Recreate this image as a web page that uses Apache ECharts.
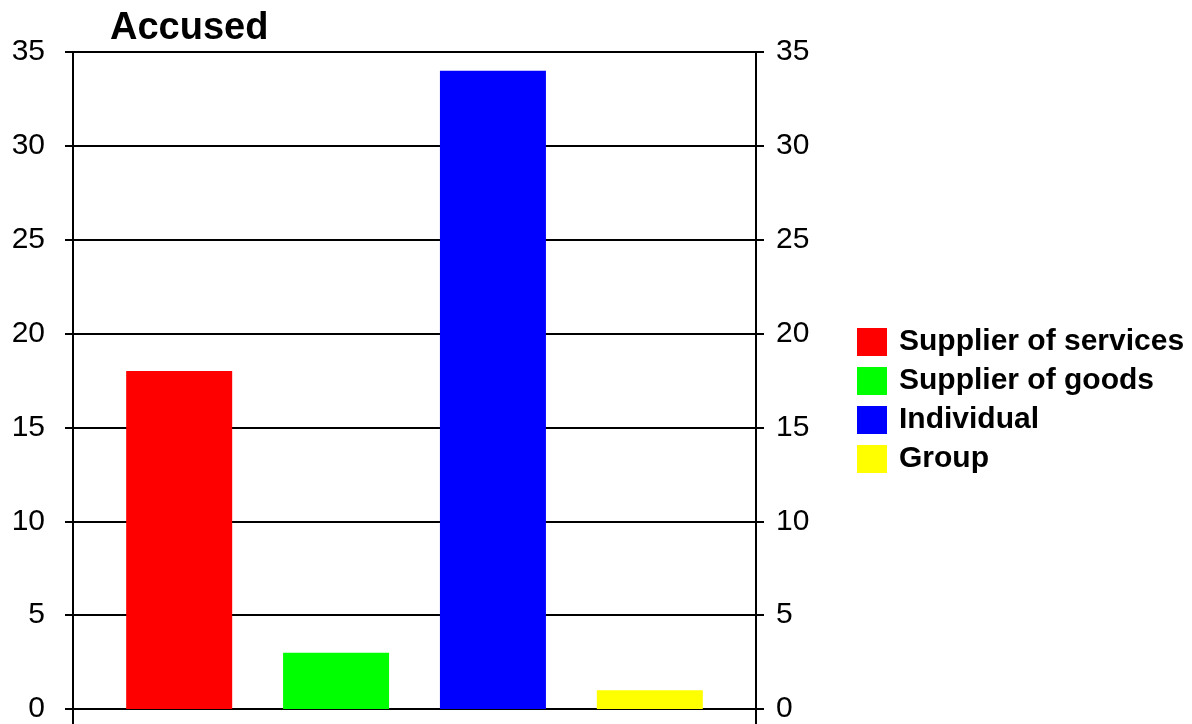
<!DOCTYPE html>
<html>
<head>
<meta charset="utf-8">
<script src="https://cdn.jsdelivr.net/npm/echarts@6/dist/echarts.min.js"></script>
<style>
  html, body { margin: 0; padding: 0; background: #fff; }
  #chart { width: 1192px; height: 724px; }
</style>
</head>
<body>
<div id="chart"></div>
<script>
// one category, one series per accused type
const categories = ['Accused'];
const seriesNames = ['Supplier of services', 'Supplier of goods', 'Individual', 'Group'];
const seriesValues = [18, 3, 34, 1];
const seriesColors = ['#ff0000', '#00ff00', '#0000ff', '#ffff00'];
const yTicks = { min: 0, max: 35, interval: 5 };

const font = 'Arial, "Liberation Sans", sans-serif';

const myChart = echarts.init(document.getElementById('chart'));

const yAxisBase = {
  type: 'value',
  min: yTicks.min,
  max: yTicks.max,
  interval: yTicks.interval,
  axisLine: { show: true, lineStyle: { color: '#000', width: 2 } },
  axisTick: { show: true, length: 8, lineStyle: { color: '#000', width: 2 } },
};

const option = {
  animation: false,
  backgroundColor: '#fff',
  title: {
    text: 'Accused',
    left: 110,
    top: 10,
    padding: 0,
    textStyle: { fontFamily: font, fontWeight: 'bold', fontSize: 38, color: '#000' },
  },
  legend: {
    orient: 'vertical',
    left: 857,
    top: 327,
    padding: 0,
    itemWidth: 30,
    itemHeight: 28,
    itemGap: 9,
    icon: 'rect',
    textStyle: { fontFamily: font, fontWeight: 'bold', fontSize: 30, color: '#000', padding: [0, 0, 0, 7] },
    data: seriesNames,
  },
  grid: { left: 73, right: 436, top: 52, bottom: 15, containLabel: false },
  xAxis: {
    type: 'category',
    data: categories,
    axisLine: { show: true, lineStyle: { color: '#000', width: 2 } },
    axisTick: { show: false },
    axisLabel: { show: false },
  },
  yAxis: [
    Object.assign({}, yAxisBase, {
      position: 'left',
      axisLabel: { fontFamily: font, fontSize: 30, color: '#000', margin: 28 },
      splitLine: { show: true, lineStyle: { color: '#000', width: 2 } },
    }),
    Object.assign({}, yAxisBase, {
      position: 'right',
      axisLabel: { fontFamily: font, fontSize: 30, color: '#000', margin: 20 },
      splitLine: { show: false },
    }),
  ],
  series: seriesNames.map((name, i) => ({
    name: name,
    type: 'bar',
    barWidth: 106,
    barGap: '48%',
    itemStyle: { color: seriesColors[i] },
    data: [seriesValues[i]],
  })),
};

myChart.setOption(option);

// axis lines run on a little below zero in the original
const p0 = myChart.convertToPixel({ gridIndex: 0 }, [0, 0]);
const gridRect = myChart.getModel().getComponent('grid', 0).coordinateSystem.getRect();
myChart.setOption({
  graphic: [gridRect.x, gridRect.x + gridRect.width].map((x) => ({
    type: 'line',
    shape: { x1: x, y1: p0[1], x2: x, y2: 724 },
    style: { stroke: '#000', lineWidth: 2 },
    silent: true,
  })),
});
</script>
</body>
</html>
